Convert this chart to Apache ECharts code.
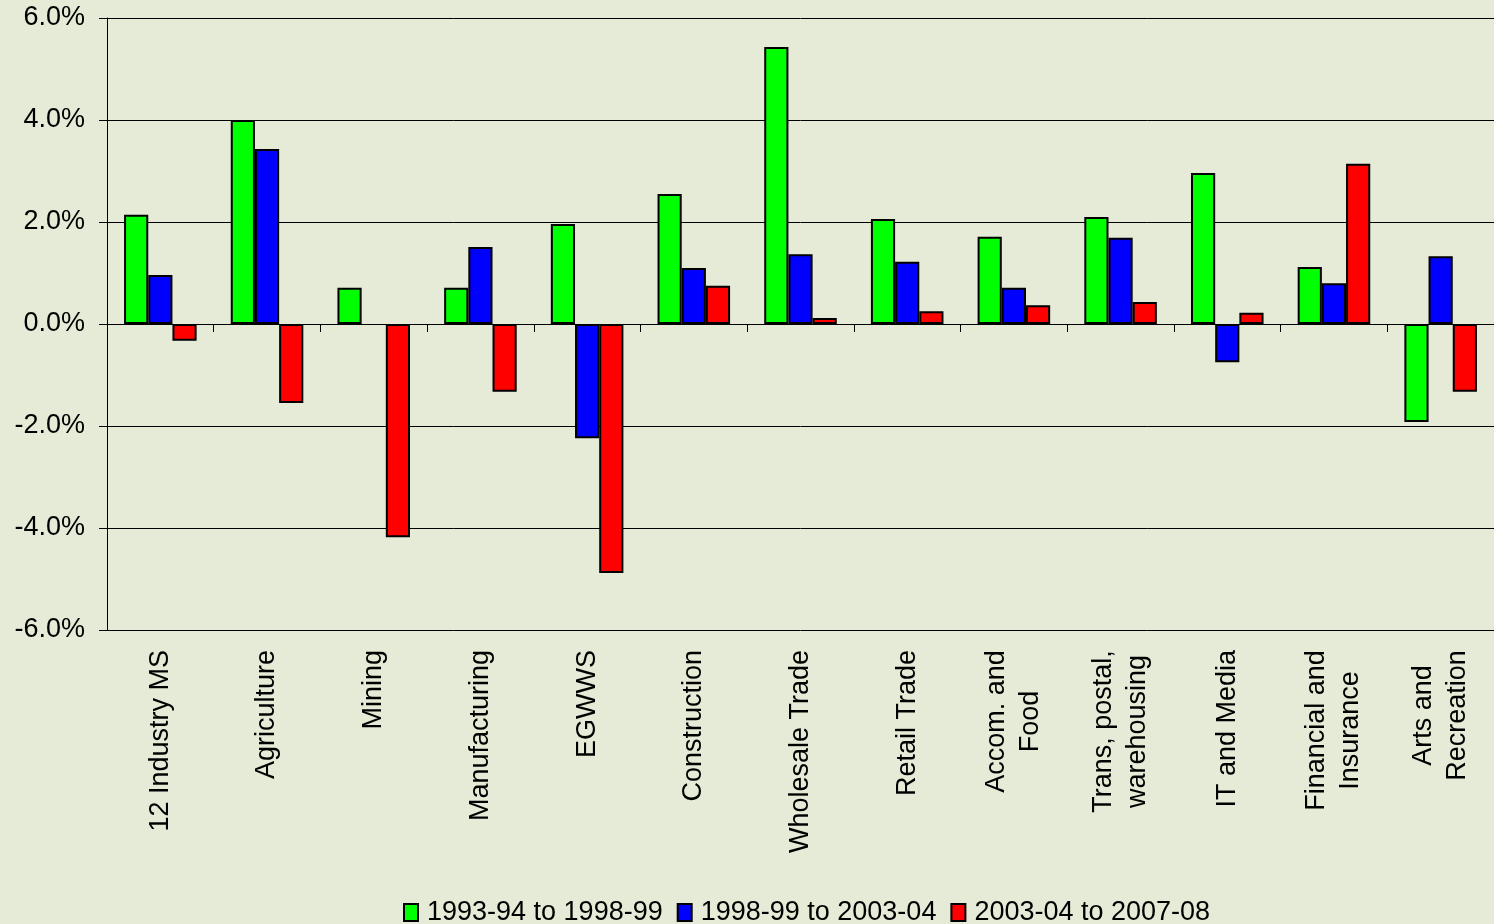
<!DOCTYPE html>
<html>
<head>
<meta charset="utf-8">
<title>Industry growth</title>
<script src="https://cdn.jsdelivr.net/npm/echarts@6/dist/echarts.min.js"></script>
<style>
  html, body { margin: 0; padding: 0; background: #e5ebd6; }
  #main { width: 1494px; height: 924px; }
</style>
</head>
<body>
<div id="main"></div>
<script>
// categories and values (% growth per period)
var categories = ['12 Industry MS', 'Agriculture', 'Mining', 'Manufacturing', 'EGWWS',
  'Construction', 'Wholesale Trade', 'Retail Trade', 'Accom. and\nFood',
  'Trans, postal,\nwarehousing', 'IT and Media', 'Financial and\nInsurance', 'Arts and\nRecreation'];
var seriesNames = ['1993-94 to 1998-99', '1998-99 to 2003-04', '2003-04 to 2007-08'];
var period1 = [2.14, 4.0, 0.71, 0.71, 1.96, 2.55, 5.43, 2.06, 1.71, 2.10, 2.96, 1.12, -1.92];
var period2 = [0.96, 3.43, null, 1.51, -2.24, 1.10, 1.37, 1.22, 0.71, 1.69, -0.75, 0.80, 1.33];
var period3 = [-0.33, -1.55, -4.18, -1.33, -4.88, 0.75, 0.12, 0.25, 0.37, 0.43, 0.22, 3.14, -1.33];
var yTicks = { min: -6, max: 6, step: 2 };

var colors = ['#00ff00', '#0000ff', '#ff0000'];
var font = 'Liberation Sans, Arial, sans-serif';
var labelSize = 27;

// multi-line labels: lines centred on each other, like the original
var ctx = document.createElement('canvas').getContext('2d');
ctx.font = labelSize + 'px ' + font;
var rich = {};
categories.forEach(function (c, i) {
  var lines = c.split('\n');
  if (lines.length > 1) {
    var w = Math.max.apply(null, lines.map(function (l) { return ctx.measureText(l).width; }));
    rich['m' + i] = { width: Math.ceil(w), align: 'center', fontFamily: font, fontSize: labelSize,
      lineHeight: 34, color: '#000' };
  }
});

var myChart = echarts.init(document.getElementById('main'));

function bar(i, data) {
  return {
    name: seriesNames[i],
    type: 'bar',
    xAxisIndex: 0,
    data: data,
    barGap: '0%',
    barCategoryGap: '32%',
    itemStyle: { color: colors[i], borderColor: '#000', borderWidth: 2 }
  };
}

myChart.setOption({
  backgroundColor: '#e5ebd6',
  animation: false,
  grid: { left: 107, right: 0, top: 18, bottom: 294 },
  legend: {
    top: 894,
    left: 398,
    icon: 'rect',
    itemWidth: 14,
    itemHeight: 17,
    itemGap: 14,
    textStyle: { fontFamily: font, fontSize: 27, color: '#000', padding: [0, 0, 0, 4] },
    data: seriesNames
  },
  xAxis: [{
    // axis line at zero with boundary ticks
    type: 'category',
    data: categories,
    position: 'bottom',
    axisLine: { onZero: true, lineStyle: { color: '#000', width: 1 } },
    axisTick: { show: true, interval: 0, length: 8, lineStyle: { color: '#000' } },
    axisLabel: { show: false }
  }, {
    // labels at the bottom of the plot
    type: 'category',
    data: categories,
    position: 'bottom',
    axisLine: { show: false, onZero: false },
    axisTick: { show: false },
    axisLabel: {
      interval: 0,
      rotate: 90,
      margin: 20,
      fontFamily: font,
      fontSize: labelSize,
      lineHeight: 34,
      color: '#000',
      rich: rich,
      formatter: function (value, index) {
        if (value.indexOf('\n') < 0) return value;
        return value.split('\n').map(function (l) { return '{m' + index + '|' + l + '}'; }).join('\n');
      }
    }
  }],
  yAxis: {
    type: 'value',
    min: yTicks.min,
    max: yTicks.max,
    interval: yTicks.step,
    axisLine: { show: true, lineStyle: { color: '#000' } },
    axisTick: { show: true, length: 8, lineStyle: { color: '#000' } },
    splitLine: { lineStyle: { color: '#000', width: 1 } },
    axisLabel: {
      margin: 22,
      fontFamily: font,
      fontSize: 27,
      color: '#000',
      formatter: function (v) { return v.toFixed(1) + '%'; }
    }
  },
  series: [bar(0, period1), bar(1, period2), bar(2, period3)]
});
</script>
</body>
</html>
